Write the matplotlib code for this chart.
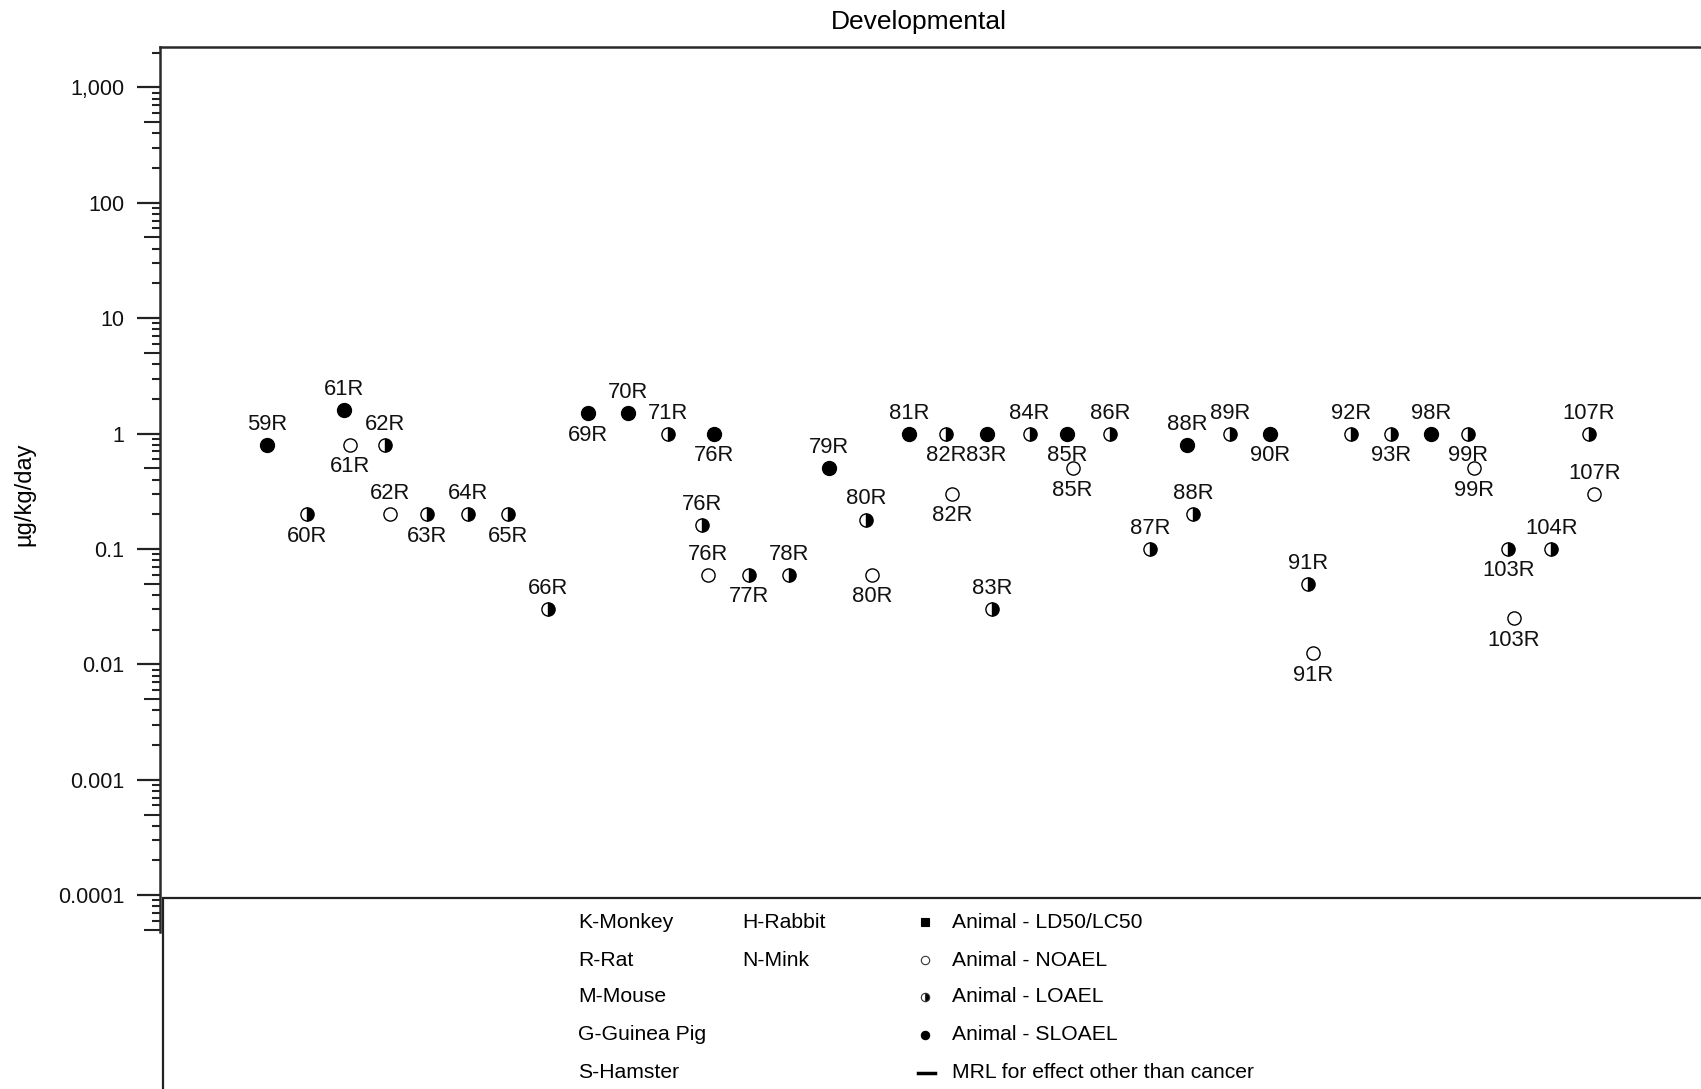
import matplotlib
matplotlib.use("Agg")
import matplotlib.pyplot as plt
from matplotlib.lines import Line2D
from matplotlib.patches import Rectangle
from matplotlib.ticker import FixedLocator, LogLocator, NullFormatter, FixedFormatter

plt.rcParams['font.family'] = ['Liberation Sans', 'DejaVu Sans']

# ---- data -------------------------------------------------------------
studies = ["59R", "60R", "61R", "61R", "62R", "62R", "63R", "64R", "65R", "66R",
           "69R", "70R", "71R", "76R", "76R", "76R", "77R", "78R", "79R", "80R",
           "80R", "81R", "82R", "82R", "83R", "83R", "84R", "85R", "85R", "86R",
           "87R", "88R", "88R", "89R", "90R", "91R", "91R", "92R", "93R", "98R",
           "99R", "99R", "103R", "103R", "104R", "107R", "107R"]
doses = [0.8, 0.2, 1.6, 0.8, 0.8, 0.2, 0.2, 0.2, 0.2, 0.03,
         1.5, 1.5, 1.0, 0.16, 0.06, 1.0, 0.06, 0.06, 0.5, 0.18,
         0.06, 1.0, 1.0, 0.3, 1.0, 0.03, 1.0, 1.0, 0.5, 1.0,
         0.1, 0.8, 0.2, 1.0, 1.0, 0.05, 0.0125, 1.0, 1.0, 1.0,
         1.0, 0.5, 0.1, 0.025, 0.1, 1.0, 0.3]
endpoints = ["SLOAEL", "LOAEL", "SLOAEL", "NOAEL", "LOAEL", "NOAEL", "LOAEL", "LOAEL", "LOAEL", "LOAEL",
             "SLOAEL", "SLOAEL", "LOAEL", "LOAEL", "NOAEL", "SLOAEL", "LOAEL", "LOAEL", "SLOAEL", "LOAEL",
             "NOAEL", "SLOAEL", "LOAEL", "NOAEL", "SLOAEL", "LOAEL", "LOAEL", "SLOAEL", "NOAEL", "LOAEL",
             "LOAEL", "SLOAEL", "LOAEL", "LOAEL", "SLOAEL", "LOAEL", "NOAEL", "LOAEL", "LOAEL", "SLOAEL",
             "LOAEL", "NOAEL", "LOAEL", "NOAEL", "LOAEL", "LOAEL", "NOAEL"]
label_side = ["above", "below", "above", "below", "above", "above", "below", "above", "below", "above",
              "below", "above", "above", "above", "above", "below", "below", "above", "above", "above",
              "below", "above", "below", "below", "below", "above", "above", "below", "below", "above",
              "above", "above", "above", "above", "below", "above", "below", "above", "below", "above",
              "below", "below", "below", "below", "above", "above", "above"]

species_col1 = ["K-Monkey", "R-Rat", "M-Mouse", "G-Guinea Pig", "S-Hamster"]
species_col2 = ["H-Rabbit", "N-Mink"]
endpoint_legend = ["Animal - LD50/LC50", "Animal - NOAEL", "Animal - LOAEL",
                   "Animal - SLOAEL", "MRL for effect other than cancer"]
ytick_values = [1e-4, 1e-3, 1e-2, 1e-1, 1, 10, 100, 1000]
ytick_labels = ["0.0001", "0.001", "0.01", "0.1", "1", "10", "100", "1,000"]

# ---- figure layout (pixel based) --------------------------------------
W, H = 1701, 1089
fig = plt.figure(figsize=(W / 100, H / 100), dpi=100)


def fx(px):
    return px / W


def fy(py):
    return 1 - py / H


ax_left, ax_top, ax_bottom, ax_right = 159.5, 46.7, 932, 1720
ax = fig.add_axes([fx(ax_left), fy(ax_bottom), fx(ax_right - ax_left), (ax_bottom - ax_top) / H])

# column of each study, in order of appearance
columns = list(dict.fromkeys(studies))
col_index = [columns.index(s) for s in studies]
counts = {c: col_index.count(c) for c in set(col_index)}
seen = {}
xpos = []
for c in col_index:
    k = seen.get(c, 0)
    seen[c] = k + 1
    n = counts[c]
    step = 0.14 if n == 2 else 0.15
    xpos.append(c + (k - (n - 1) / 2) * step)

styles = {
    "SLOAEL": dict(marker="o", ms=10, mfc="black", mec="black", mew=1.0),
    "NOAEL": dict(marker="o", ms=9.5, mfc="white", mec="black", mew=1.0),
    "LOAEL": dict(marker="o", ms=9.5, fillstyle="right", mfc="black",
                  markerfacecoloralt="white", mec="black", mew=1.0),
}

for x, d, e, s, side in zip(xpos, doses, endpoints, studies, label_side):
    ax.plot([x], [d], linestyle="none", zorder=3, **styles[e])
    dy = 14.8 if side == "above" else -15.8
    ax.annotate(s, (x, d), xytext=(0, dy), textcoords="offset points",
                ha="center", va="center", fontsize=15.8, color="#111111")

ax.set_yscale("log")
ax.set_ylim(4.8e-5, 2250)
col_px = 40.14
first_col_px = 266.9
ax.set_xlim(-(first_col_px - ax_left) / col_px,
            (len(columns) - 1) + (ax_right - (first_col_px + (len(columns) - 1) * col_px)) / col_px)

ax.yaxis.set_major_locator(FixedLocator(ytick_values))
ax.yaxis.set_major_formatter(FixedFormatter(ytick_labels))
ax.yaxis.set_minor_locator(LogLocator(base=10, subs=[2, 3, 4, 6, 7, 8, 9], numticks=20))
ax.yaxis.set_minor_formatter(NullFormatter())
ax.tick_params(axis="y", which="major", length=16.5, width=1.6, direction="out",
               labelsize=15.5, pad=9, color="#222222", labelcolor="#111111")
ax.tick_params(axis="y", which="minor", length=6, width=1.5, direction="out", color="#222222")
ax.set_xticks([])

# mid-decade (5 x 10^k) ticks are drawn a bit longer
mid = ax.secondary_yaxis("left")
mid.yaxis.set_major_locator(LogLocator(base=10, subs=[5], numticks=20))
mid.yaxis.set_major_formatter(NullFormatter())
mid.yaxis.set_minor_locator(FixedLocator([]))
mid.tick_params(axis="y", which="major", length=11.5, width=1.5, direction="out", color="#222222")
mid.spines["left"].set_visible(False)

for side in ("right", "bottom"):
    ax.spines[side].set_visible(False)
for side in ("left", "top"):
    ax.spines[side].set_linewidth(1.8)
    ax.spines[side].set_color("#2a2a2a")

fig.text(fx(24), fy(494), "µg/kg/day", rotation=90, ha="center", va="center", fontsize=17)
fig.text(fx(919), fy(22), "Developmental", ha="center", va="center", fontsize=19)

# ---- key box ----------------------------------------------------------
fig.add_artist(Rectangle((fx(163), -0.02), 1.0, fy(898) + 0.02, transform=fig.transFigure,
                         fill=False, lw=1.6, ec="#222222"))

rows = [922, 960, 997, 1035, 1073]
for name, ry in zip(species_col1, rows):
    fig.text(fx(578), fy(ry), name, ha="left", va="center", fontsize=15.2)
for name, ry in zip(species_col2, rows):
    fig.text(fx(742), fy(ry), name, ha="left", va="center", fontsize=15.2)

key_markers = [
    dict(marker="s", ms=5.5, mfc="black", mec="black", mew=0.8),
    dict(marker="o", ms=6, mfc="white", mec="#333333", mew=0.8),
    dict(marker="o", ms=6, fillstyle="right", mfc="black", markerfacecoloralt="white",
         mec="#333333", mew=0.8),
    dict(marker="o", ms=6, mfc="black", mec="black", mew=0.8),
]
for style, ry in zip(key_markers, rows[:4]):
    fig.add_artist(Line2D([fx(925)], [fy(ry)], linestyle="none", transform=fig.transFigure, **style))
fig.add_artist(Line2D([fx(918), fx(935)], [fy(rows[4]), fy(rows[4])], color="black", lw=2.5,
                      transform=fig.transFigure))
for name, ry in zip(endpoint_legend, rows):
    fig.text(fx(952), fy(ry), name, ha="left", va="center", fontsize=15.2)

fig.savefig("out.png", dpi=100, facecolor="white")
